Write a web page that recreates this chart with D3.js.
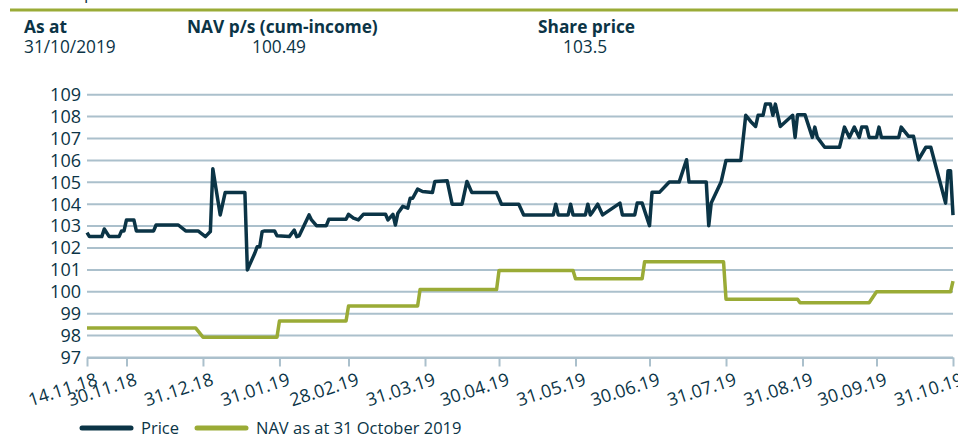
<!DOCTYPE html>
<html>
<head>
<meta charset="utf-8">
<script src="https://cdn.jsdelivr.net/npm/d3@7"></script>
<style>
  html,body{margin:0;padding:0;background:#fff;overflow:hidden;}
  svg{display:block;font-family:"Open Sans",sans-serif;}
</style>
</head>
<body>
<div id="chart"></div>
<script>
// price series (date, pence)
const priceDates=["2018-11-14","2018-11-15","2018-11-20","2018-11-21","2018-11-23","2018-11-27","2018-11-28","2018-11-29","2018-11-30",
"2018-12-03","2018-12-04","2018-12-11","2018-12-12","2018-12-21","2018-12-24","2018-12-29",
"2019-01-01","2019-01-03","2019-01-04","2019-01-07","2019-01-09","2019-01-17","2019-01-18","2019-01-21","2019-01-22","2019-01-23","2019-01-24","2019-01-25","2019-01-29","2019-01-30",
"2019-02-04","2019-02-06","2019-02-07","2019-02-08","2019-02-12","2019-02-13","2019-02-15","2019-02-19","2019-02-20","2019-02-27","2019-02-28",
"2019-03-02","2019-03-04","2019-03-06","2019-03-15","2019-03-16","2019-03-18","2019-03-19","2019-03-20","2019-03-22","2019-03-24","2019-03-25","2019-03-26","2019-03-28","2019-03-30",
"2019-04-03","2019-04-04","2019-04-09","2019-04-11","2019-04-15","2019-04-17","2019-04-19","2019-04-29",
"2019-05-01","2019-05-08","2019-05-10","2019-05-22","2019-05-23","2019-05-24","2019-05-28","2019-05-29","2019-05-30",
"2019-06-04","2019-06-05","2019-06-06","2019-06-07","2019-06-09","2019-06-11","2019-06-18","2019-06-19","2019-06-24","2019-06-25","2019-06-27","2019-06-30",
"2019-07-01","2019-07-04","2019-07-08","2019-07-12","2019-07-15","2019-07-16","2019-07-23","2019-07-24","2019-07-25","2019-07-29","2019-07-31",
"2019-08-06","2019-08-08","2019-08-10","2019-08-12","2019-08-13","2019-08-15","2019-08-16","2019-08-18","2019-08-19","2019-08-20","2019-08-22","2019-08-27","2019-08-28","2019-08-29",
"2019-09-01","2019-09-04","2019-09-05","2019-09-06","2019-09-09","2019-09-15","2019-09-16","2019-09-17","2019-09-19","2019-09-21","2019-09-23","2019-09-24","2019-09-26","2019-09-27","2019-09-30",
"2019-10-01","2019-10-02","2019-10-09","2019-10-10","2019-10-13","2019-10-15","2019-10-17","2019-10-20","2019-10-22","2019-10-28","2019-10-29","2019-10-30","2019-10-31"];
const priceValues=[102.7,102.52,102.52,102.87,102.52,102.52,102.78,102.78,103.28,
103.28,102.78,102.78,103.05,103.05,102.78,102.78,
102.52,102.75,105.62,103.51,104.53,104.53,101.0,101.76,102.06,102.06,102.75,102.78,102.78,102.56,
102.52,102.82,102.52,102.56,103.51,103.28,103.02,103.02,103.31,103.31,103.54,
103.36,103.28,103.54,103.54,103.28,103.54,103.05,103.59,103.9,103.82,104.27,104.27,104.69,104.58,
104.53,105.04,105.07,104.0,104.0,105.04,104.53,104.53,
104.0,104.0,103.51,103.51,104.0,103.51,103.51,104.0,103.51,
103.51,104.0,103.51,103.66,104.0,103.51,104.05,103.51,103.51,104.05,104.05,103.02,
104.54,104.54,105.01,105.01,106.03,105.01,105.01,103.02,104.05,105.01,106.0,
106.0,108.06,107.78,107.55,108.06,108.06,108.57,108.57,108.06,108.57,107.55,108.06,107.05,108.09,
108.09,107.05,107.52,107.05,106.6,106.6,107.05,107.52,107.05,107.52,107.05,107.52,107.52,107.05,107.05,
107.52,107.05,107.05,107.52,107.1,107.1,106.03,106.6,106.6,104.05,105.53,105.53,103.5];

// NAV as at 31 October 2019
const navDates=["2018-11-14","2018-12-28","2018-12-31","2019-01-30","2019-01-31","2019-02-27","2019-02-28","2019-03-28","2019-03-29",
"2019-04-29","2019-04-30","2019-05-30","2019-05-31","2019-06-27","2019-06-28","2019-07-30","2019-07-31","2019-08-29","2019-08-30",
"2019-09-27","2019-09-30","2019-10-30","2019-10-31"];
const navValues=[98.35,98.35,97.93,97.93,98.67,98.67,99.35,99.35,100.1,
100.1,100.97,100.97,100.6,100.6,101.37,101.37,99.66,99.66,99.5,
99.5,100.0,100.0,100.49];

const tickDates=["2018-11-14","2018-11-30","2018-12-31","2019-01-31","2019-02-28","2019-03-31","2019-04-30","2019-05-31","2019-06-30","2019-07-31","2019-08-31","2019-09-30","2019-10-31"];
const yTicks=[97,98,99,100,101,102,103,104,105,106,107,108,109];

const headers=[
    {title:"As at",value:"31/10/2019",x:24,vx:24},
    {title:"NAV p/s (cum-income)",value:"100.49",x:187,vx:252},
    {title:"Share price",value:"103.5",x:538,vx:563}
];

const navy="#0b3446";
const green="#9aab36";
const grid="#abc0cc";

const width=958,height=436;
const parse=d3.timeParse("%Y-%m-%d");
const fmt=d3.timeFormat("%d.%m.%y");

const price=priceDates.map((d,i)=>({date:parse(d),value:priceValues[i]}));
const nav=navDates.map((d,i)=>({date:parse(d),value:navValues[i]}));

const x=d3.scaleTime()
    .domain([parse(tickDates[0]),parse(tickDates[tickDates.length-1])])
    .range([87,953]);
const y=d3.scaleLinear()
    .domain([97,109])
    .range([357.5,94.7]);

const svg=d3.select("#chart").append("svg")
    .attr("width",width)
    .attr("height",height);

// clipped title descender + rule
svg.append("text")
    .attr("x",84)
    .attr("y",-1)
    .attr("fill",navy)
    .attr("font-size",17)
    .text("p");
svg.append("line")
    .attr("x1",10).attr("x2",width)
    .attr("y1",10).attr("y2",10)
    .attr("stroke",green)
    .attr("stroke-width",3);

const head=svg.append("g").attr("fill",navy).attr("font-size",17.3);
head.selectAll(".h-title")
    .data(headers)
    .join("text")
    .attr("class","h-title")
    .attr("x",d=>d.x)
    .attr("y",33)
    .attr("font-weight","bold")
    .text(d=>d.title);
head.selectAll(".h-value")
    .data(headers)
    .join("text")
    .attr("class","h-value")
    .attr("x",d=>d.vx)
    .attr("y",53)
    .text(d=>d.value);

// gridlines
svg.append("g")
    .selectAll("line")
    .data(yTicks)
    .join("line")
    .attr("x1",x.range()[0])
    .attr("x2",x.range()[1])
    .attr("y1",d=>y(d))
    .attr("y2",d=>y(d))
    .attr("stroke",grid)
    .attr("stroke-width",2);

// y labels
svg.append("g")
    .attr("fill",navy)
    .attr("font-size",18)
    .attr("text-anchor","end")
    .selectAll("text")
    .data(yTicks)
    .join("text")
    .attr("x",81)
    .attr("y",d=>y(d))
    .attr("dy","0.35em")
    .text(d=>d);

// x axis
const xAxis=svg.append("g")
    .attr("transform",`translate(0,${y(97)})`)
    .call(d3.axisBottom(x)
        .tickValues(tickDates.map(parse))
        .tickFormat(fmt)
        .tickSize(9)
        .tickSizeOuter(0));
xAxis.select(".domain").attr("stroke",grid).attr("stroke-width",2);
xAxis.selectAll(".tick line").attr("stroke",grid).attr("stroke-width",2);
xAxis.selectAll(".tick text")
    .attr("fill",navy)
    .attr("font-size",18)
    .attr("font-family","\"Open Sans\",sans-serif")
    .attr("text-anchor","end")
    .attr("y",0)
    .attr("dy",0)
    .attr("transform","translate(11,27) rotate(-18)");

const line=d3.line()
    .x(d=>x(d.date))
    .y(d=>y(d.value));

svg.append("path")
    .datum(nav)
    .attr("fill","none")
    .attr("stroke",green)
    .attr("stroke-width",3.5)
    .attr("stroke-linejoin","round")
    .attr("d",line);

svg.append("path")
    .datum(price)
    .attr("fill","none")
    .attr("stroke",navy)
    .attr("stroke-width",3.5)
    .attr("stroke-linejoin","round")
    .attr("d",line);

// legend
const legend=svg.append("g").attr("font-size",16.5).attr("fill",navy);
const items=[{label:"Price",color:navy,x:80},{label:"NAV as at 31 October 2019",color:green,x:195}];
items.forEach(d=>{
    legend.append("line")
        .attr("x1",d.x+2).attr("x2",d.x+51)
        .attr("y1",428).attr("y2",428)
        .attr("stroke",d.color)
        .attr("stroke-width",5)
        .attr("stroke-linecap","round");
    legend.append("text")
        .attr("x",d.x+61)
        .attr("y",434)
        .text(d.label);
});
</script>
</body>
</html>
